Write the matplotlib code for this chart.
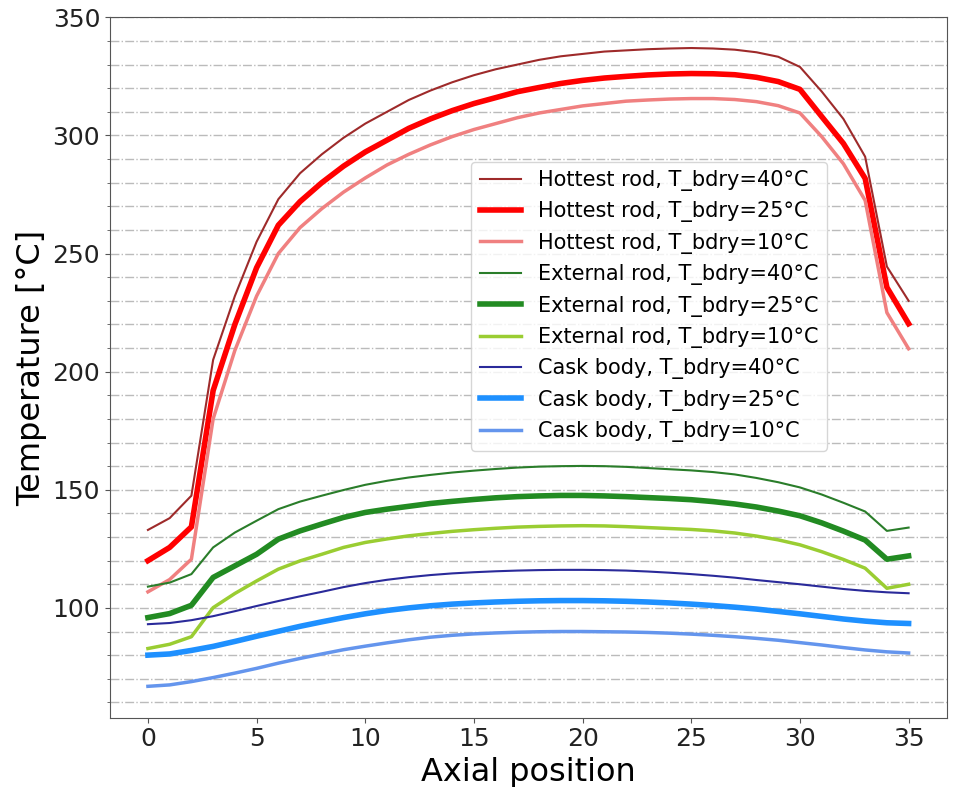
import matplotlib.pyplot as plt
import numpy as np
from matplotlib.ticker import MultipleLocator

# axial positions along the rod
pos = np.arange(0, 36)

hot40 = [133, 138, 147.5, 205, 232, 255, 273, 284, 292, 299, 305, 310, 315, 319, 322.5, 325.5,
         328, 330, 332, 333.5, 334.5, 335.5, 336, 336.5, 336.8, 337, 336.8, 336.3, 335.2, 333.3,
         329, 318.6, 307, 291, 244.5, 230]
hot25 = [120, 125.6, 134.3, 192, 220, 244, 262, 272, 280, 287, 293, 298, 303, 307, 310.5, 313.5,
         316, 318.5, 320.3, 322, 323.3, 324.3, 325, 325.6, 326, 326.2, 326.1, 325.7, 324.6, 322.8,
         319.5, 308, 296.6, 281.8, 235.7, 220.3]
hot10 = [106.8, 112, 120.6, 180, 209, 232, 250, 261, 269, 276, 282, 287.5, 292, 296, 299.5, 302.5,
         305, 307.5, 309.5, 311, 312.5, 313.5, 314.5, 315, 315.4, 315.6, 315.6, 315.2, 314.3, 312.6,
         309.5, 299.5, 288, 272.5, 225, 209.7]

ext40 = [109, 110.7, 114.3, 125.6, 131.9, 136.9, 141.8, 145, 147.5, 149.9, 152.1, 153.8, 155.2,
         156.3, 157.3, 158.1, 158.8, 159.4, 159.8, 160, 160.1, 160, 159.7, 159.2, 158.7, 158.2,
         157.5, 156.5, 155, 153.2, 151, 148, 144.5, 140.8, 132.6, 134]
ext25 = [95.9, 97.6, 101.1, 112.9, 117.8, 122.7, 129.1, 132.6, 135.5, 138.3, 140.4, 141.8, 143,
         144.2, 145.1, 145.9, 146.6, 147.1, 147.4, 147.6, 147.6, 147.4, 147.1, 146.7, 146.3, 145.8,
         145, 144, 142.7, 141, 139, 136, 132.5, 128.7, 120.6, 122]
ext10 = [82.8, 84.6, 87.8, 100.1, 106.1, 111.4, 116.4, 119.9, 122.7, 125.6, 127.7, 129.2, 130.5,
         131.5, 132.4, 133.1, 133.7, 134.2, 134.5, 134.7, 134.8, 134.7, 134.4, 134, 133.6, 133.2,
         132.6, 131.7, 130.4, 128.8, 126.7, 123.8, 120.5, 116.8, 108.3, 110]

cask40 = [93.1, 93.6, 94.8, 96.5, 98.6, 100.8, 102.9, 104.9, 106.8, 108.8, 110.5, 111.9, 113,
          113.9, 114.6, 115.1, 115.5, 115.8, 116, 116.1, 116.1, 116, 115.8, 115.4, 114.9, 114.3,
          113.6, 112.8, 111.8, 110.9, 110, 109, 108, 107.2, 106.6, 106.2]
cask25 = [80, 80.5, 82, 83.7, 85.8, 88, 90.1, 92.2, 94.1, 95.9, 97.5, 98.9, 100, 100.9, 101.6,
          102.1, 102.5, 102.8, 103, 103.1, 103.1, 103, 102.8, 102.5, 102.1, 101.6, 101, 100.3,
          99.5, 98.5, 97.5, 96.4, 95.3, 94.4, 93.7, 93.4]
cask10 = [66.8, 67.4, 68.8, 70.5, 72.4, 74.4, 76.6, 78.6, 80.5, 82.3, 83.8, 85.2, 86.5, 87.6, 88.4,
          89, 89.4, 89.7, 89.9, 90, 90, 89.9, 89.8, 89.6, 89.3, 88.9, 88.4, 87.8, 87.1, 86.3, 85.3,
          84.3, 83.2, 82.2, 81.4, 80.9]

fig = plt.figure(figsize=(9.64, 7.87), dpi=100)
ax = fig.gca()
fig.subplots_adjust(left=0.114, right=0.982, top=0.978, bottom=0.088)

ax.plot(pos, hot40, color='#9e2a2a', lw=1.5, label='Hottest rod, T_bdry=40°C')
ax.plot(pos, hot25, color='red', lw=4, label='Hottest rod, T_bdry=25°C')
ax.plot(pos, hot10, color='#f08080', lw=2.5, label='Hottest rod, T_bdry=10°C')
ax.plot(pos, ext40, color='#2a7d2a', lw=1.5, label='External rod, T_bdry=40°C')
ax.plot(pos, ext25, color='forestgreen', lw=4, label='External rod, T_bdry=25°C')
ax.plot(pos, ext10, color='yellowgreen', lw=2.5, label='External rod, T_bdry=10°C')
ax.plot(pos, cask40, color='#2a2a9a', lw=1.5, label='Cask body, T_bdry=40°C')
ax.plot(pos, cask25, color='dodgerblue', lw=4, label='Cask body, T_bdry=25°C')
ax.plot(pos, cask10, color='cornflowerblue', lw=2.5, label='Cask body, T_bdry=10°C')

ax.set_ylim(53.5, 350)
ax.set_xlim(-1.75, 36.75)
ax.yaxis.set_minor_locator(MultipleLocator(10))
ax.grid(axis='y', which='both', linestyle='-.', color='#bbbbbb', lw=1)

for s in ax.spines.values():
    s.set_color('#555555')
ax.tick_params(labelsize=18, colors='#555555', labelcolor='#222222')
ax.tick_params(which='minor', colors='#555555')

plt.xlabel('Axial position', fontsize=23)
plt.ylabel('Temperature [°C]', fontsize=23)

ax.legend(loc='upper left', bbox_to_anchor=(0.4195, 0.809), fontsize=15)

plt.savefig('out.png')
